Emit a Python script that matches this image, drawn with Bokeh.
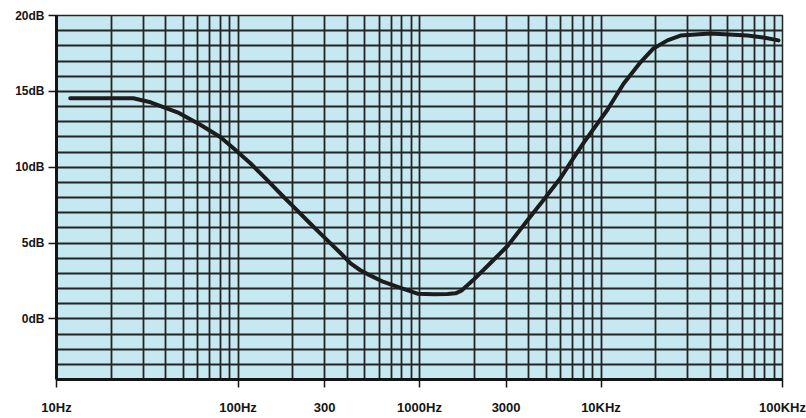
from bokeh.plotting import figure
from bokeh.models import FixedTicker
from bokeh.embed import file_html
from bokeh.resources import INLINE

# Frequency response curve
freq_hz = [11.9, 20, 26.5, 33, 46.4, 62, 80.2, 94.4, 117, 145, 178, 202, 242, 296,
           367, 417, 470, 517, 634, 786, 975, 1200, 1427, 1580, 1700, 1984, 2461, 3054,
           3936, 4822, 5981, 7047, 8017, 10870, 13310, 16500, 19460, 23240, 27400,
           40100, 64100, 78500, 95000]
gain_db = [14.55, 14.55, 14.54, 14.28, 13.62, 12.8, 11.97, 11.25, 10.26, 9.14, 8.05,
           7.4, 6.45, 5.42, 4.34, 3.66, 3.22, 2.95, 2.43, 2.04, 1.66, 1.62, 1.64, 1.68,
           1.85, 2.57, 3.68, 4.8, 6.5, 7.83, 9.28, 10.6, 11.6, 13.8, 15.5, 16.91, 17.83,
           18.36, 18.68, 18.82, 18.68, 18.55, 18.36]

y_ticks = [0, 5, 10, 15, 20]
y_tick_labels = ["0dB", "5dB", "10dB", "15dB", "20dB"]
x_ticks = [10, 100, 300, 1000, 3000, 10000, 100000]
x_tick_labels = ["10Hz", "100Hz", "300", "1000Hz", "3000", "10KHz", "100KHz"]

y_grid = list(range(-4, 21))
x_grid = [m * 10 ** k for k in range(1, 5) for m in range(1, 10)] + [100000]

FONT = "Liberation Sans"
GRID = "#242424"
INK = "#151515"

p = figure(width=806, height=418, x_axis_type="log", x_range=(10, 100000),
           y_range=(-4, 20), output_backend="svg", toolbar_location=None,
           min_border_left=56, min_border_right=24, min_border_top=15,
           min_border_bottom=39)

p.background_fill_color = "#c6e9f1"
p.border_fill_color = "white"
p.outline_line_color = GRID
p.outline_line_width = 1.5

p.xgrid.ticker = FixedTicker(ticks=x_grid)
p.ygrid.ticker = FixedTicker(ticks=y_grid)
for g in (p.xgrid, p.ygrid):
    g.grid_line_color = GRID
    g.grid_line_width = 1.8
    g.grid_line_alpha = 1.0
    g.minor_grid_line_color = None

# y axis
p.yaxis.ticker = FixedTicker(ticks=y_ticks)
p.yaxis.major_label_overrides = {t: s for t, s in zip(y_ticks, y_tick_labels)}
p.yaxis.major_tick_out = 8
p.yaxis.major_tick_in = 0
p.yaxis.minor_tick_line_color = None
p.yaxis.major_tick_line_color = INK
p.yaxis.major_tick_line_width = 1.5
p.yaxis.axis_line_color = INK
p.yaxis.axis_line_width = 3
p.yaxis.major_label_standoff = 4
p.yaxis.major_label_text_font = FONT
p.yaxis.major_label_text_font_style = "bold"
p.yaxis.major_label_text_font_size = "12px"
p.yaxis.major_label_text_color = INK

# x axis
p.xaxis.ticker = FixedTicker(ticks=x_ticks)
p.xaxis.major_label_overrides = {t: s for t, s in zip(x_ticks, x_tick_labels)}
p.xaxis.major_label_text_font = FONT
p.xaxis.major_label_text_font_style = "bold"
p.xaxis.major_label_text_font_size = "13px"
p.xaxis.major_label_text_color = INK
p.xaxis.major_label_standoff = 12
p.xaxis.major_tick_out = 8
p.xaxis.major_tick_in = 0
p.xaxis.minor_tick_line_color = None
p.xaxis.major_tick_line_color = INK
p.xaxis.major_tick_line_width = 1.5
p.xaxis.axis_line_color = INK
p.xaxis.axis_line_width = 3

p.line(freq_hz, gain_db, line_width=4, line_color="#1c1c1c",
       line_join="round", line_cap="round")

open("out.html", "w").write(file_html(p, INLINE))
